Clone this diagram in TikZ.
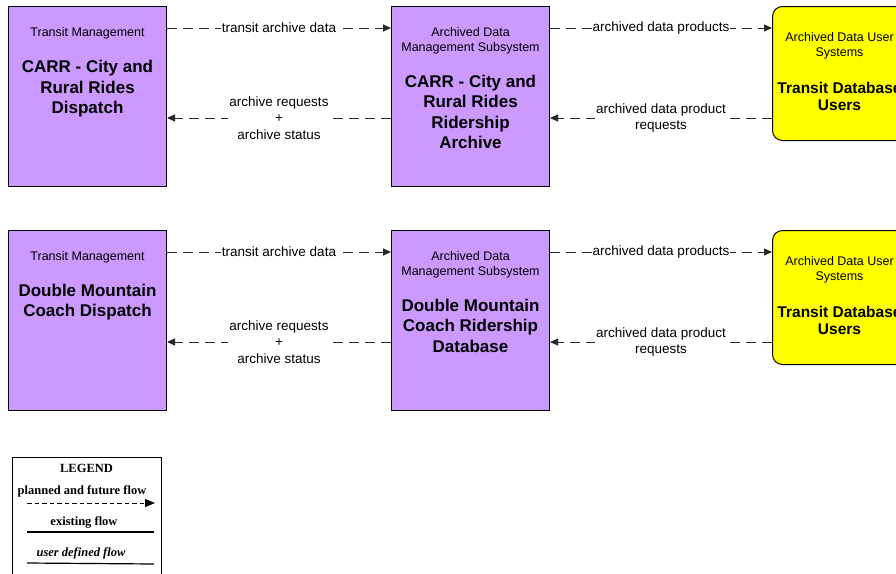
\documentclass[tikz,border=0pt]{standalone}
\usepackage{fontspec}
\setmainfont{Liberation Sans}
\newfontfamily\legendfont{Liberation Serif}
\usetikzlibrary{arrows.meta, positioning, calc}
\definecolor{subpurple}{RGB}{204,153,255}
\definecolor{useryellow}{RGB}{255,255,0}
\definecolor{flowdark}{RGB}{40,40,40}
\tikzset{
  subsys/.style={rectangle, draw=black, fill=subpurple, line width=1pt,
    minimum width=158pt, minimum height=180pt, inner sep=0pt},
  userbox/.style={rectangle, draw=black, fill=useryellow, line width=1pt,
    rounded corners=10pt, minimum width=134pt, minimum height=134pt, inner sep=0pt},
  hdr/.style={font=\fontsize{12.5}{15}\selectfont, align=center, inner sep=0pt, anchor=base},
  ttl/.style={font=\fontsize{17}{20.5}\selectfont\bfseries, align=center, inner sep=0pt, anchor=base},
  uttl/.style={font=\fontsize{15.5}{17}\selectfont\bfseries, align=center, inner sep=0pt, anchor=base},
  flow/.style={-{Triangle[length=8pt,width=7pt]}, draw=flowdark, line width=1pt,
    dash pattern=on 10pt off 6pt},
  flowlbl/.style={font=\fontsize{13.5}{16.5}\selectfont, fill=white, align=center, inner sep=1pt},
  lgdtxt/.style={font=\legendfont\fontsize{12.5}{13}\selectfont\bfseries, inner sep=0pt, anchor=base}
}
\begin{document}
\begin{tikzpicture}[x=1pt, y=-1pt]
    \useasboundingbox (0,0) rectangle (896,573);
    \clip (0,0) rectangle (896,573);
    % Row 1: CARR  (text nodes sit on the baseline of their last line)
    \node[subsys, anchor=north west] (carrdisp) at (8,6) {};
    \node[subsys, anchor=north west] (carrarch) at (391,6) {};
    \node[userbox, anchor=north west] (users1) at (772,6) {};
    \node[hdr] (carrdisph) at ($(carrdisp.north)+(0,30)$) {Transit Management};
    \node[ttl] (carrdispt) at ($(carrdisp.north)+(0,107.5)$) {CARR - City and\\Rural Rides\\Dispatch};
    \node[hdr] (carrarchh) at ($(carrarch.north)+(0,45.5)$) {Archived Data\\Management Subsystem};
    \node[ttl] (carrarcht) at ($(carrarch.north)+(0,142.5)$) {CARR - City and\\Rural Rides\\Ridership\\Archive};
    \node[hdr] (users1h) at ($(users1.north)+(0,50.5)$) {Archived Data User\\Systems};
    \node[uttl] (users1t) at ($(users1.north)+(0,104)$) {Transit Database\\Users};
    % Row 1 flows
    \draw[flow] ($(carrdisp.north east)+(0,22)$) -- node[flowlbl] {transit archive data} ($(carrarch.north west)+(0,22)$);
    \draw[flow] ($(carrarch.north west)+(0,112)$) -- node[flowlbl] {archive requests\\+\\archive status} ($(carrdisp.north east)+(0,112)$);
    \draw[flow] ($(carrarch.north east)+(0,22)$) -- node[flowlbl] {archived data products} ($(users1.north west)+(0,22)$);
    \draw[flow] ($(users1.north west)+(0,112)$) -- node[flowlbl] {archived data product\\requests} ($(carrarch.north east)+(0,112)$);

    % Row 2: Double Mountain
    \node[subsys, anchor=north west] (dmcdisp) at (8,230) {};
    \node[subsys, anchor=north west] (dmcdb) at (391,230) {};
    \node[userbox, anchor=north west] (users2) at (772,230) {};
    \node[hdr] (dmcdisph) at ($(dmcdisp.north)+(0,30)$) {Transit Management};
    \node[ttl] (dmcdispt) at ($(dmcdisp.north)+(0,86.5)$) {Double Mountain\\Coach Dispatch};
    \node[hdr] (dmcdbh) at ($(dmcdb.north)+(0,45.5)$) {Archived Data\\Management Subsystem};
    \node[ttl] (dmcdbt) at ($(dmcdb.north)+(0,122)$) {Double Mountain\\Coach Ridership\\Database};
    \node[hdr] (users2h) at ($(users2.north)+(0,50.5)$) {Archived Data User\\Systems};
    \node[uttl] (users2t) at ($(users2.north)+(0,104)$) {Transit Database\\Users};
    % Row 2 flows
    \draw[flow] ($(dmcdisp.north east)+(0,22)$) -- node[flowlbl] {transit archive data} ($(dmcdb.north west)+(0,22)$);
    \draw[flow] ($(dmcdb.north west)+(0,112)$) -- node[flowlbl] {archive requests\\+\\archive status} ($(dmcdisp.north east)+(0,112)$);
    \draw[flow] ($(dmcdb.north east)+(0,22)$) -- node[flowlbl] {archived data products} ($(users2.north west)+(0,22)$);
    \draw[flow] ($(users2.north west)+(0,112)$) -- node[flowlbl] {archived data product\\requests} ($(dmcdb.north east)+(0,112)$);

    % Legend
    \draw[line width=1pt] (12,590) |- (161,457) -- (161,590);
    \node[lgdtxt] (lgdtitle) at (86.5,472) {LEGEND};
    \node[lgdtxt] (lgdplan) at (82,494) {planned and future flow};
    \coordinate (planA) at (27,503);
    \coordinate (planB) at (155,503);
    \draw[-{Triangle[length=10pt,width=8pt]}, line width=1pt, dash pattern=on 4.5pt off 3pt] (planA) -- (planB);
    \node[lgdtxt] (lgdexist) at (84,525) {existing flow};
    \coordinate (existA) at (27,532);
    \coordinate (existB) at (154,532);
    \draw[line width=1.2pt] (existA) -- (existB);
    \node[lgdtxt, font=\legendfont\fontsize{12.5}{13}\selectfont\bfseries\itshape] (lgduser) at (81,556) {user defined flow};
    \coordinate (userA) at (27,563);
    \coordinate (userB) at (154,564);
    \draw[line width=1.2pt] (userA) -- (userB);
\end{tikzpicture}
\end{document}
